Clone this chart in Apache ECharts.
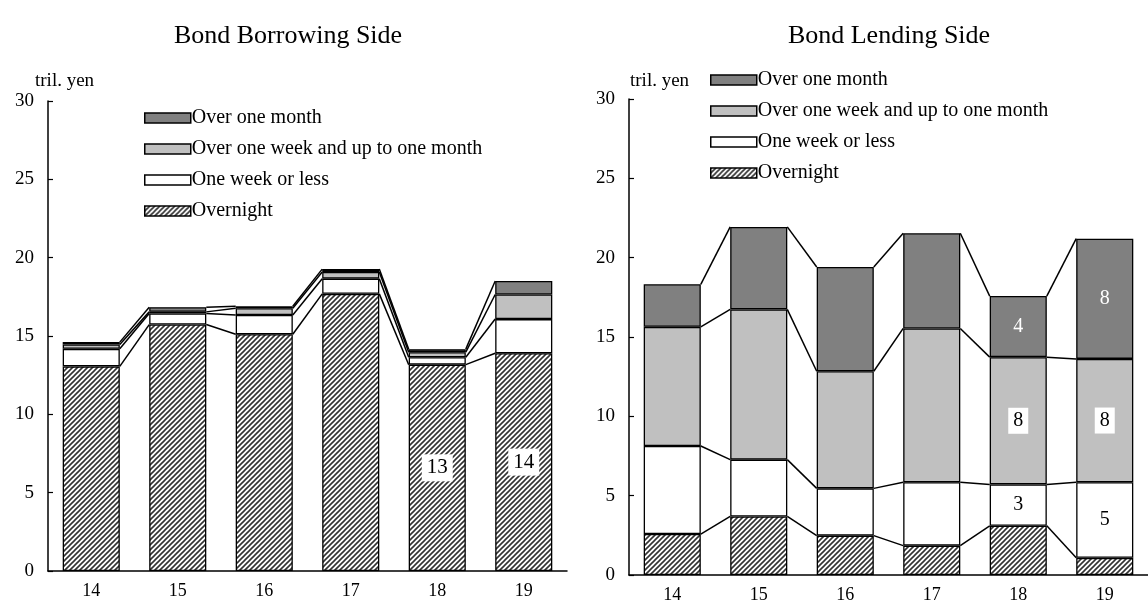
<!DOCTYPE html>
<html>
<head>
<meta charset="utf-8">
<script src="https://cdn.jsdelivr.net/npm/echarts@6/dist/echarts.min.js"></script>
<style>html,body{margin:0;padding:0;background:#fff;}#c{width:1148px;height:606px;}</style>
</head>
<body>
<div id="c"></div>
<script>
// ---- data ----
const categories = ['14', '15', '16', '17', '18', '19'];
const seriesNames = ['Over one month', 'Over one week and up to one month', 'One week or less', 'Overnight'];
const yTicks = [0, 5, 10, 15, 20, 25, 30];

// Bond Borrowing Side (tril. yen)
const borrowOvernight = [13.06, 15.73, 15.11, 17.69, 13.17, 13.90];
const borrowOneWeek   = [1.12, 0.71, 1.23, 0.97, 0.47, 2.18];
const borrowUpToMonth = [0.28, 0.10, 0.43, 0.43, 0.33, 1.57];
const borrowOverMonth = [0.15, 0.30, 0.13, 0.18, 0.19, 0.86];
const borrowOvernightLabels = ['', '', '', '', '13', '14'];

// Bond Lending Side (tril. yen)
const lendOvernight = [2.58, 3.69, 2.48, 1.85, 3.10, 1.08];
const lendOneWeek   = [5.55, 3.58, 2.98, 4.00, 2.61, 4.77];
const lendUpToMonth = [7.51, 9.47, 7.38, 9.69, 8.02, 7.77];
const lendOverMonth = [2.68, 5.20, 6.57, 6.00, 3.85, 7.58];
const lendOneWeekLabels   = ['', '', '', '', '3', '5'];
const lendUpToMonthLabels = ['', '', '', '', '8', '8'];
const lendOverMonthLabels = ['', '', '', '', '4', '8'];

// ---- styles ----
const FONT = '"Liberation Serif", "DejaVu Serif", serif';
function makeHatch() {
  const s = 5;
  const cv = document.createElement('canvas');
  cv.width = s; cv.height = s;
  const ctx = cv.getContext('2d');
  ctx.fillStyle = '#fff'; ctx.fillRect(0, 0, s, s);
  ctx.strokeStyle = '#333'; ctx.lineWidth = 1.6;
  ctx.beginPath();
  ctx.moveTo(-1, s + 1); ctx.lineTo(s + 1, -1);
  ctx.moveTo(-1, 1); ctx.lineTo(1, -1);
  ctx.moveTo(s - 1, s + 1); ctx.lineTo(s + 1, s - 1);
  ctx.stroke();
  return cv;
}
const hatch = { image: makeHatch(), repeat: 'repeat' };
const fills = {
  'Over one month': '#808080',
  'Over one week and up to one month': '#c0c0c0',
  'One week or less': '#ffffff',
  'Overnight': hatch
};
const BAR_FRAC = 0.66;

function buildData(values, labels, labelStyle) {
  return values.map((v, i) => {
    const t = labels ? labels[i] : '';
    if (!t) return v;
    return { value: v, label: Object.assign({ show: true, formatter: t, position: 'inside', fontFamily: FONT }, labelStyle) };
  });
}

function barSeries(name, axisIdx, stack, data) {
  return {
    type: 'bar', name: name, stack: stack,
    xAxisIndex: axisIdx, yAxisIndex: axisIdx,
    barWidth: (BAR_FRAC * 100) + '%',
    itemStyle: { color: fills[name], borderColor: '#000', borderWidth: 1.3 },
    data: data,
    z: 2
  };
}

function connectorSeries(axisIdx, layers) {
  const cum = [];
  let running = categories.map(() => 0);
  layers.forEach(arr => {
    running = running.map((r, i) => r + arr[i]);
    cum.push(running.slice());
  });
  return {
    type: 'custom',
    xAxisIndex: axisIdx, yAxisIndex: axisIdx,
    silent: true, z: 3,
    data: categories.slice(0, categories.length - 1).map((c, i) => i),
    renderItem: function (params, api) {
      const i = params.dataIndex;
      const band = api.size([1, 0])[0];
      const half = band * BAR_FRAC / 2;
      const children = cum.map(level => {
        const p1 = api.coord([i, level[i]]);
        const p2 = api.coord([i + 1, level[i + 1]]);
        return {
          type: 'line',
          shape: { x1: p1[0] + half, y1: p1[1], x2: p2[0] - half, y2: p2[1] },
          style: { stroke: '#000', lineWidth: 1.5 }
        };
      });
      return { type: 'group', children: children };
    }
  };
}

function xAxis(gridIndex) {
  return {
    type: 'category', gridIndex: gridIndex, data: categories,
    axisLine: { lineStyle: { color: '#000', width: 1.5 } },
    axisTick: { inside: true, length: 5, lineStyle: { color: '#000', width: 1.2 } },
    axisLabel: { color: '#000', fontSize: 18, fontFamily: FONT, margin: 11 },
    splitLine: { show: false }
  };
}
function yAxis(gridIndex) {
  return {
    type: 'value', gridIndex: gridIndex, min: yTicks[0], max: yTicks[yTicks.length - 1], interval: 5,
    axisLine: { show: true, lineStyle: { color: '#000', width: 1.5 } },
    axisTick: { show: true, inside: true, length: 5, lineStyle: { color: '#000', width: 1.2 } },
    axisLabel: { color: '#000', fontSize: 19, fontFamily: FONT, margin: 14 },
    splitLine: { show: false }
  };
}
function legend(left, top) {
  return {
    orient: 'vertical', left: left, top: top,
    data: seriesNames,
    itemWidth: 46, itemHeight: 10, itemGap: 11,
    icon: 'rect',
    textStyle: { color: '#000', fontSize: 20, fontFamily: FONT, padding: [0, 0, 0, -4] },
    itemStyle: { borderColor: '#000', borderWidth: 1.5 },
    selectedMode: false
  };
}

const whiteBox = { color: '#000', fontSize: 21, backgroundColor: '#fff', padding: [4, 5, 2, 5] };
const whiteBoxR = { color: '#000', fontSize: 20, backgroundColor: '#fff', padding: [4, 5, 2, 5] };
const whiteText = { color: '#fff', fontSize: 20 };
const blackText = { color: '#000', fontSize: 20 };

const option = {
  animation: false,
  backgroundColor: '#fff',
  title: [
    { text: 'Bond Borrowing Side', left: 283, top: 18, textAlign: 'center',
      textStyle: { fontSize: 26, fontWeight: 'normal', color: '#000', fontFamily: FONT } },
    { text: 'Bond Lending Side', left: 884, top: 18, textAlign: 'center',
      textStyle: { fontSize: 26, fontWeight: 'normal', color: '#000', fontFamily: FONT } },
    { text: 'tril. yen', left: 30, top: 67,
      textStyle: { fontSize: 19, fontWeight: 'normal', color: '#000', fontFamily: FONT } },
    { text: 'tril. yen', left: 625, top: 67,
      textStyle: { fontSize: 19, fontWeight: 'normal', color: '#000', fontFamily: FONT } }
  ],
  legend: [legend(139, 103), legend(705, 65)],
  grid: [
    { left: 48, width: 519, top: 101, height: 470 },
    { left: 629, width: 519, top: 99, height: 476 }
  ],
  xAxis: [xAxis(0), xAxis(1)],
  yAxis: [yAxis(0), yAxis(1)],
  series: [
    barSeries('Overnight', 0, 'b', buildData(borrowOvernight, borrowOvernightLabels, whiteBox)),
    barSeries('One week or less', 0, 'b', buildData(borrowOneWeek)),
    barSeries('Over one week and up to one month', 0, 'b', buildData(borrowUpToMonth)),
    barSeries('Over one month', 0, 'b', buildData(borrowOverMonth)),
    connectorSeries(0, [borrowOvernight, borrowOneWeek, borrowUpToMonth, borrowOverMonth]),

    barSeries('Overnight', 1, 'l', buildData(lendOvernight)),
    barSeries('One week or less', 1, 'l', buildData(lendOneWeek, lendOneWeekLabels, blackText)),
    barSeries('Over one week and up to one month', 1, 'l', buildData(lendUpToMonth, lendUpToMonthLabels, whiteBoxR)),
    barSeries('Over one month', 1, 'l', buildData(lendOverMonth, lendOverMonthLabels, whiteText)),
    connectorSeries(1, [lendOvernight, lendOneWeek, lendUpToMonth, lendOverMonth])
  ]
};

const chart = echarts.init(document.getElementById('c'), null, { renderer: 'canvas' });
chart.setOption(option);
</script>
</body>
</html>
